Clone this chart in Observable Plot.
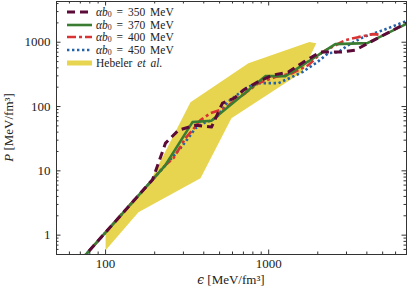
<!DOCTYPE html>
<html><head><meta charset="utf-8">
<script src="https://cdn.jsdelivr.net/npm/d3@7"></script>
<script src="https://cdn.jsdelivr.net/npm/@observablehq/plot@0.6"></script>
<style>
body{margin:0;background:#fff;}
#wrap{position:relative;width:409px;height:289px;font-family:"Liberation Serif","DejaVu Serif",serif;}
#legend{position:absolute;left:67px;top:6px;font-size:11.5px;color:#222;line-height:1;word-spacing:2px;}
.row{display:flex;align-items:center;height:12.6px;white-space:nowrap;overflow:visible;}
.row span{line-height:10px;display:inline-block;height:10px;}
.row svg{margin-right:4px;flex:none;}
.row sub{font-size:0.68em;vertical-align:-0.12em;line-height:0;}
</style></head><body><div id="wrap"></div>
<script>
// ---- data ----
const seriesLabels = ["350", "370", "400", "450"];
const seriesColors = ["#5c0a38", "#3a7d32", "#d93434", "#2562a8"];
const bandLabel = "Hebeler";
const bandColor = "#e8d54f";

const eps350 = [70, 194, 233, 280, 356, 446, 521, 617, 700, 853, 1054, 1320, 1631, 2073, 2748, 3395, 4079, 7000];
const P350   = [0.40, 7.3, 27, 43, 51, 48, 113, 135, 180, 240, 308, 343, 490, 702, 702, 754, 968, 1990];

const eps370 = [70, 233, 341, 445, 954, 1266, 2561, 4022, 7000];
const P370   = [0.40, 12.3, 57.2, 60, 297, 297, 934, 968, 1930];

const eps400 = [70, 233, 261, 309, 341, 382, 440, 543, 599, 720, 865, 1099, 1397, 1751, 2133, 2950, 3540, 4376, 4900];
const P400   = [0.40, 12.3, 15.8, 32.3, 43, 61.4, 79, 94.5, 117, 162, 231, 287, 331, 440, 702, 1078, 1200, 1337, 1300];

const eps450 = [70, 233, 288, 331.5, 356, 410, 452, 492, 559, 741, 865, 1147, 1302, 1609, 1987, 2320, 2672, 3076, 3801, 5040, 7000];
const P450   = [0.40, 12.3, 22.5, 35.9, 46, 57.2, 61.4, 73.5, 117, 200, 231, 231, 267, 343, 490, 677, 702, 902, 1200, 1543, 2140];

const bandEps = [100, 189, 331.5, 751, 1775, 1960, 1609, 591, 382, 159, 100];
const bandP   = [1.11, 7.17, 117, 473, 1004, 968, 343, 66, 7.7, 2.28, 0.58];

const xMajor = [100, 1000];
const xMinor = [60, 70, 80, 90, 200, 300, 400, 500, 600, 700, 800, 900, 2000, 3000, 4000, 5000, 6000];
const yMajor = [1, 10, 100, 1000];
const yMinor = [0.6, 0.7, 0.8, 0.9, 2, 3, 4, 5, 6, 7, 8, 9, 20, 30, 40, 50, 60, 70, 80, 90,
                200, 300, 400, 500, 600, 700, 800, 900, 2000, 3000, 4000];
const xDomain = [50, 7000];
const yDomain = [0.5, 4300];

// ---- build ----
const zip = (E, P) => E.map((e, i) => ({e, p: P[i]}));
const d350 = zip(eps350, P350), d370 = zip(eps370, P370), d400 = zip(eps400, P400), d450 = zip(eps450, P450);
const band = zip(bandEps, bandP);

const W = 409, H = 289, mL = 56, mR = 3, mT = 1, mB = 35;
const PW = W - mL - mR, PH = H - mT - mB;
const axc = "#333";
const styles = [
  {stroke: seriesColors[0], strokeWidth: 3, strokeDasharray: "8,5"},
  {stroke: seriesColors[1], strokeWidth: 2.6},
  {stroke: seriesColors[2], strokeWidth: 2.6, strokeDasharray: "9,3,3,3"},
  {stroke: seriesColors[3], strokeWidth: 2.6, strokeDasharray: "2.4,2.6"}
];
const lineOpts = (s) => ({x: "e", y: "p", clip: true, strokeLinecap: "butt", strokeLinejoin: "round", ...s});
const tk = (len, side) => ({stroke: axc, strokeWidth: 1, [side]: side.includes("Top") || side.includes("Bottom") ? PH - len : PW - len});

const chart = Plot.plot({
  width: W, height: H,
  marginLeft: mL, marginRight: mR, marginTop: mT, marginBottom: mB,
  style: {fontFamily: '"Liberation Serif", "DejaVu Serif", serif', fontSize: "13px", color: "#222", background: "#fff"},
  x: {type: "log", domain: xDomain},
  y: {type: "log", domain: yDomain},
  marks: [
    Plot.line(band, {x: "e", y: "p", fill: bandColor, stroke: "none"}),
    Plot.line(d450, lineOpts(styles[3])),
    Plot.line(d400, lineOpts(styles[2])),
    Plot.line(d370, lineOpts(styles[1])),
    Plot.line(d350, lineOpts(styles[0])),
    Plot.frame({stroke: axc, strokeWidth: 1}),
    Plot.tickX(xMajor, {x: d => d, ...tk(4.5, "insetTop")}),
    Plot.tickX(xMajor, {x: d => d, ...tk(4.5, "insetBottom")}),
    Plot.tickX(xMinor, {x: d => d, ...tk(2.5, "insetTop")}),
    Plot.tickX(xMinor, {x: d => d, ...tk(2.5, "insetBottom")}),
    Plot.tickY(yMajor, {y: d => d, ...tk(4.5, "insetRight")}),
    Plot.tickY(yMajor, {y: d => d, ...tk(4.5, "insetLeft")}),
    Plot.tickY(yMinor, {y: d => d, ...tk(2.5, "insetRight")}),
    Plot.tickY(yMinor, {y: d => d, ...tk(2.5, "insetLeft")}),
    Plot.axisX(xMajor, {tickSize: 0, tickPadding: 4, tickFormat: d => String(d), label: null}),
    Plot.axisY(yMajor, {tickSize: 0, tickPadding: 6, tickFormat: d => String(d), label: null})
  ]
});

const wrap = document.getElementById("wrap");
wrap.appendChild(chart);

// axis titles
const svg = d3.select(chart);
const yl = svg.append("text").attr("transform", `translate(10,${mT + PH / 2}) rotate(-90)`)
  .attr("text-anchor", "middle").attr("dominant-baseline", "middle").attr("font-size", 13).attr("fill", "#222");
yl.append("tspan").attr("font-style", "italic").text("P");
yl.append("tspan").text(" [MeV/fm³]");
const xl = svg.append("text").attr("x", mL + PW / 2).attr("y", 284)
  .attr("text-anchor", "middle").attr("font-size", 13).attr("fill", "#222");
xl.append("tspan").attr("font-style", "italic").attr("font-family", "DejaVu Serif").attr("font-size", 12).text("ϵ");
xl.append("tspan").text(" [MeV/fm³]");

// legend
const legend = document.createElement("div");
legend.id = "legend";
const dashAttr = (s) => s.strokeDasharray ? `stroke-dasharray="${s.strokeDasharray}"` : "";
let html = "";
seriesLabels.forEach((lab, i) => {
  const s = styles[i];
  html += `<div class="row"><svg width="25" height="12"><line x1="0" x2="25" y1="6" y2="6" stroke="${s.stroke}" stroke-width="${s.strokeWidth}" ${dashAttr(s)}/></svg>` +
    `<span><i>αb</i><sub>0</sub> = ${lab} MeV</span></div>`;
});
html += `<div class="row"><svg width="25" height="12"><rect x="0" y="3.5" width="25" height="5" fill="${bandColor}"/></svg>` +
  `<span>${bandLabel} <i>et al.</i></span></div>`;
legend.innerHTML = html;
wrap.appendChild(legend);
</script></body></html>
